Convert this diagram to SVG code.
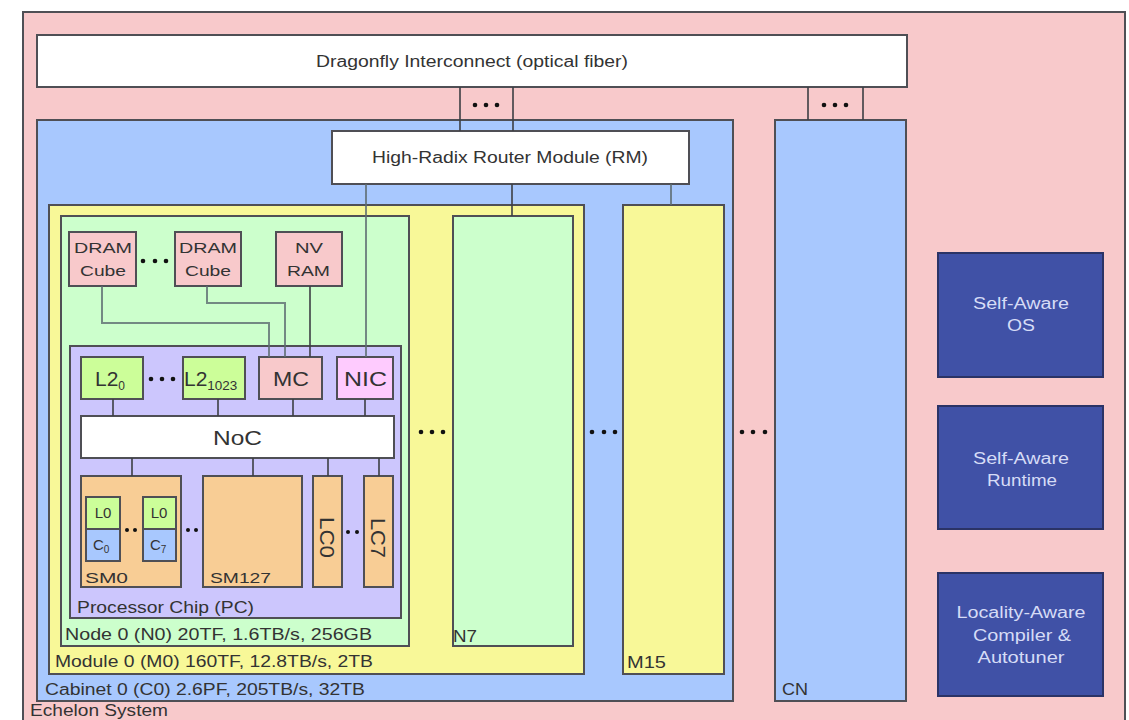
<svg xmlns="http://www.w3.org/2000/svg" width="1129" height="720" viewBox="0 0 1129 720">
<style>
.box{stroke:#4f4f55;stroke-width:2}
.pink{fill:#f8c9cb}
.blue{fill:#a8c8fe}
.yellow{fill:#f8f898}
.green{fill:#ccffcc}
.lav{fill:#ccc6fd}
.white{fill:#ffffff}
.orange{fill:#f8cd95}
.l2{fill:#ccfe99}
.nic{fill:#fecbfe}
.dark{fill:#4051a6;stroke:#2b3366;stroke-width:2}
text{font-family:"Liberation Sans",Arial,sans-serif;fill:#333}
.lbl{font-size:16px}
.mid{text-anchor:middle}
.big{font-size:21px}
.sm{font-size:15px}
.inv{fill:#d6dcf6;font-size:16px;text-anchor:middle}
.conn{stroke:#3d3f44;stroke-width:1.6;fill:none}
.connl{stroke:#5d6b70;stroke-width:2;fill:none;opacity:.8}
.dot{fill:#111}
</style>
<rect width="1129" height="720" fill="#ffffff"/>
<g id="echelon-system">
<rect class="box pink" x="23" y="12" width="1102" height="720"/>
<text class="lbl" x="30" y="716" textLength="138" lengthAdjust="spacingAndGlyphs">Echelon System</text>
</g>
<g id="dragonfly">
<rect class="box white" x="37" y="35" width="870" height="52"/>
<text class="lbl" x="316" y="67" textLength="312" lengthAdjust="spacingAndGlyphs">Dragonfly Interconnect (optical fiber)</text>
</g>
<g id="cabinet0">
<rect class="box blue" x="37" y="120" width="696" height="581"/>
<text class="lbl" x="45" y="695" textLength="320" lengthAdjust="spacingAndGlyphs">Cabinet 0 (C0) 2.6PF, 205TB/s, 32TB</text>
</g>
<g id="cn">
<rect class="box blue" x="775" y="120" width="131" height="581"/>
<text class="lbl" x="782" y="695" textLength="26" lengthAdjust="spacingAndGlyphs">CN</text>
</g>
<g id="module0">
<rect class="box yellow" x="49" y="205" width="535" height="469"/>
<text class="lbl" x="55" y="667" textLength="318" lengthAdjust="spacingAndGlyphs">Module 0 (M0) 160TF, 12.8TB/s, 2TB</text>
</g>
<g id="m15">
<rect class="box yellow" x="623" y="205" width="101" height="469"/>
<text class="lbl" x="627" y="668" textLength="39" lengthAdjust="spacingAndGlyphs">M15</text>
</g>
<g id="node0">
<rect class="box green" x="61" y="216" width="348" height="430"/>
<text class="lbl" x="65" y="640" textLength="307" lengthAdjust="spacingAndGlyphs">Node 0 (N0) 20TF, 1.6TB/s, 256GB</text>
</g>
<g id="n7">
<rect class="box green" x="453" y="216" width="120" height="430"/>
<text class="lbl" x="453" y="642" textLength="24" lengthAdjust="spacingAndGlyphs">N7</text>
</g>
<g id="router">
<rect class="box white" x="332" y="131" width="357" height="53"/>
<text class="lbl" x="372" y="163" textLength="276" lengthAdjust="spacingAndGlyphs">High-Radix Router Module (RM)</text>
</g>
<g id="dram0">
<rect class="box pink" x="69" y="232" width="67" height="54"/>
<text class="sm" x="74" y="253" textLength="58" lengthAdjust="spacingAndGlyphs">DRAM</text>
<text class="sm" x="80" y="276" textLength="46" lengthAdjust="spacingAndGlyphs">Cube</text>
</g>
<g id="dram1">
<rect class="box pink" x="175" y="232" width="66" height="54"/>
<text class="sm" x="179" y="253" textLength="58" lengthAdjust="spacingAndGlyphs">DRAM</text>
<text class="sm" x="185" y="276" textLength="46" lengthAdjust="spacingAndGlyphs">Cube</text>
</g>
<g id="nvram">
<rect class="box pink" x="276" y="232" width="66" height="54"/>
<text class="sm" x="295" y="253" textLength="28" lengthAdjust="spacingAndGlyphs">NV</text>
<text class="sm" x="287" y="276" textLength="43" lengthAdjust="spacingAndGlyphs">RAM</text>
</g>
<g id="processor-chip">
<rect class="box lav" x="70" y="346" width="331" height="272"/>
<text class="lbl" x="77" y="613" textLength="177" lengthAdjust="spacingAndGlyphs">Processor Chip (PC)</text>
</g>
<g id="l2-0">
<rect class="box l2" x="81" y="357" width="62" height="42"/>
<text class="big" x="95" y="386">L2<tspan font-size="12" dy="4">0</tspan></text>
</g>
<g id="l2-1023">
<rect class="box l2" x="183" y="357" width="62" height="42"/>
<text class="big" x="184" y="386">L2<tspan font-size="12" dy="4" textLength="30" lengthAdjust="spacingAndGlyphs">1023</tspan></text>
</g>
<g id="mc">
<rect class="box pink" x="259" y="357" width="63" height="42"/>
<text class="big" x="273" y="386" textLength="36" lengthAdjust="spacingAndGlyphs">MC</text>
</g>
<g id="nic">
<rect class="box nic" x="337" y="357" width="56" height="42"/>
<text class="big" x="344" y="386" textLength="43" lengthAdjust="spacingAndGlyphs">NIC</text>
</g>
<g id="noc">
<rect class="box white" x="81" y="416" width="313" height="42"/>
<text class="big" x="213" y="445" textLength="49" lengthAdjust="spacingAndGlyphs">NoC</text>
</g>
<g id="sm0">
<rect class="box orange" x="81" y="476" width="100" height="111"/>
<rect class="box l2" x="86" y="497" width="34" height="32"/>
<rect class="box" fill="#a8c8fe" x="86" y="529" width="34" height="32"/>
<rect class="box l2" x="143" y="497" width="33" height="32"/>
<rect class="box" fill="#a8c8fe" x="143" y="529" width="33" height="32"/>
<text class="sm mid" x="103" y="518">L0</text>
<text class="sm" x="93" y="550">C<tspan font-size="10" dy="3">0</tspan></text>
<text class="sm mid" x="159" y="518">L0</text>
<text class="sm" x="150" y="550">C<tspan font-size="10" dy="3">7</tspan></text>
<text class="sm" x="85" y="583" textLength="43" lengthAdjust="spacingAndGlyphs">SM0</text>
</g>
<g id="sm127">
<rect class="box orange" x="203" y="476" width="99" height="111"/>
<text class="sm" x="210" y="583" textLength="61" lengthAdjust="spacingAndGlyphs">SM127</text>
</g>
<g id="lc0">
<rect class="box orange" x="313" y="476" width="29" height="111"/>
<text class="big" transform="translate(320,517) rotate(90)" textLength="41" lengthAdjust="spacingAndGlyphs">LC0</text>
</g>
<g id="lc7">
<rect class="box orange" x="364" y="476" width="29" height="111"/>
<text class="big" transform="translate(371,518) rotate(90)" textLength="40" lengthAdjust="spacingAndGlyphs">LC7</text>
</g>
<g id="self-aware-os">
<rect class="dark" x="938" y="253" width="165" height="124"/>
<text class="inv" x="1021" y="309" textLength="96" lengthAdjust="spacingAndGlyphs">Self-Aware</text>
<text class="inv" x="1021" y="331" textLength="28" lengthAdjust="spacingAndGlyphs">OS</text>
</g>
<g id="self-aware-runtime">
<rect class="dark" x="938" y="406" width="165" height="123"/>
<text class="inv" x="1021" y="464" textLength="96" lengthAdjust="spacingAndGlyphs">Self-Aware</text>
<text class="inv" x="1022" y="486" textLength="70" lengthAdjust="spacingAndGlyphs">Runtime</text>
</g>
<g id="compiler">
<rect class="dark" x="938" y="573" width="165" height="123"/>
<text class="inv" x="1021" y="618" textLength="129" lengthAdjust="spacingAndGlyphs">Locality-Aware</text>
<text class="inv" x="1022" y="641" textLength="98" lengthAdjust="spacingAndGlyphs">Compiler &amp;</text>
<text class="inv" x="1021" y="663" textLength="87" lengthAdjust="spacingAndGlyphs">Autotuner</text>
</g>
<g id="connectors">
<path class="conn" d="M460 87V131M513 87V131M808 87V120M863 87V120"/>
<path class="conn" d="M512 184V216"/>
<path class="connl" d="M671 184V205"/>
<path class="connl" d="M366 184V357"/>
<path class="connl" d="M102 286V323H269V357M207 286V303H285V357"/>
<path class="conn" d="M310 286V357"/>
<path class="conn" d="M113 399V416M218 399V416M293 399V416M365 399V416"/>
<path class="conn" d="M132 458V476M253 458V476M328 458V476M379 458V476"/>
</g>
<g id="ellipses" class="dot">
<circle cx="475" cy="105" r="2.3"/><circle cx="486" cy="105" r="2.3"/><circle cx="497" cy="105" r="2.3"/>
<circle cx="824" cy="105" r="2.3"/><circle cx="835" cy="105" r="2.3"/><circle cx="846" cy="105" r="2.3"/>
<circle cx="143" cy="261" r="2.3"/><circle cx="155" cy="261" r="2.3"/><circle cx="166" cy="261" r="2.3"/>
<circle cx="151" cy="379" r="2.3"/><circle cx="162" cy="379" r="2.3"/><circle cx="173" cy="379" r="2.3"/>
<circle cx="127" cy="530" r="2"/><circle cx="135" cy="530" r="2"/>
<circle cx="188" cy="530" r="2"/><circle cx="196" cy="530" r="2"/>
<circle cx="348" cy="532" r="2"/><circle cx="357" cy="532" r="2"/>
<circle cx="421" cy="432" r="2.3"/><circle cx="432" cy="432" r="2.3"/><circle cx="443" cy="432" r="2.3"/>
<circle cx="592" cy="432" r="2.3"/><circle cx="604" cy="432" r="2.3"/><circle cx="615" cy="432" r="2.3"/>
<circle cx="742" cy="432" r="2.3"/><circle cx="753" cy="432" r="2.3"/><circle cx="765" cy="432" r="2.3"/>
</g>
</svg>
